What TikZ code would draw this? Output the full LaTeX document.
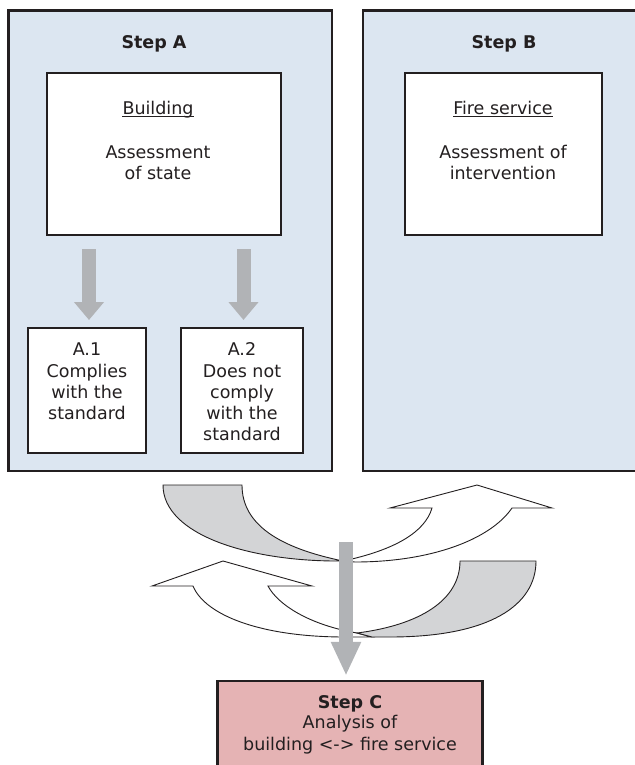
\documentclass[tikz,border=0pt]{standalone}
\usepackage{fontspec}
\setmainfont{DejaVu Sans}
\usetikzlibrary{arrows.meta}
\definecolor{stepblue}{RGB}{220,230,241}
\definecolor{arrowgray}{RGB}{177,179,182}
\definecolor{curvegray}{RGB}{211,212,214}
\definecolor{steppink}{RGB}{229,179,180}
\definecolor{ink}{RGB}{35,31,32}
\begin{document}
\begin{tikzpicture}[x=1pt,y=-1pt,
  stepbox/.style={draw=ink, line width=2.7pt, fill=stepblue, inner sep=0pt},
  innerbox/.style={draw=ink, line width=2pt, fill=white, inner sep=0pt},
  pinkbox/.style={draw=ink, line width=2.5pt, fill=steppink, inner sep=0pt},
  txt/.style={font=\fontsize{17.5}{21}\selectfont, text=ink, inner sep=0pt, anchor=base},
  btxt/.style={txt, font=\fontsize{17.5}{21}\selectfont\bfseries},
  smallarrow/.style={draw=arrowgray, line width=14pt, -{Triangle[width=29pt,length=18pt]}},
  bigarrow/.style={draw=arrowgray, line width=14pt, -{Triangle[width=28pt,length=34pt]}},
  curve/.style={draw=ink, line width=0.9pt, line join=miter}
]
\useasboundingbox (0,0) rectangle (634,765);

% Step boxes
\node[stepbox, minimum width=323.5pt, minimum height=460.3pt] (stepA) at (170.25,240.85) {};
\node[stepbox, minimum width=282pt, minimum height=460.3pt] (stepB) at (504,240.85) {};

% inner boxes
\node[innerbox, minimum width=234pt, minimum height=161.7pt] (bld) at (164,154.15) {};
\node[innerbox, minimum width=197pt, minimum height=161.7pt] (fire) at (503.5,154.15) {};
\node[innerbox, minimum width=118pt, minimum height=125pt] (a1) at (87,390.5) {};
\node[innerbox, minimum width=122pt, minimum height=125pt] (a2) at (242,390.5) {};

% texts
\node[btxt] (tA) at (154,49) {Step A};
\node[btxt] (tB) at (504,49) {Step B};
\node[txt] (b1) at (158,114) {Building};
\draw[ink, line width=1.1pt] ([yshift=-2.6pt]b1.base west) -- ([yshift=-2.6pt]b1.base east);
\node[txt] (b2) at (158,158) {Assessment};
\node[txt] (b3) at (158,179) {of state};
\node[txt] (f1) at (503,114) {Fire service};
\draw[ink, line width=1.1pt] ([yshift=-2.6pt]f1.base west) -- ([yshift=-2.6pt]f1.base east);
\node[txt] (f2) at (503,158) {Assessment of};
\node[txt] (f3) at (503,179) {intervention};

\node[txt] (a1t1) at (87,355) {A.1};
\node[txt] (a1t2) at (87,377) {Complies};
\node[txt] (a1t3) at (87,398) {with the};
\node[txt] (a1t4) at (87,419) {standard};

\node[txt] (a2t1) at (242,355) {A.2};
\node[txt] (a2t2) at (242,377) {Does not};
\node[txt] (a2t3) at (242,398) {comply};
\node[txt] (a2t4) at (242,419) {with the};
\node[txt] (a2t5) at (242,440) {standard};

% small gray arrows
\coordinate (s1) at (89,249);
\coordinate (s2) at (243.5,249);
\draw[smallarrow] (s1) -- (s1 |- a1.north) [shorten >=7pt];
\draw[smallarrow, shorten >=7pt] (s2) -- (s2 |- a2.north);

% curved arrows: upper
\filldraw[curve, fill=curvegray] (163,485) -- (242,485)
  .. controls (242,525) and (280,548) .. (343,561)
  .. controls (250,562) and (163,535) .. (163,485) -- cycle;
\filldraw[curve, fill=white] (343,561)
  .. controls (395,550) and (425,532) .. (432,508)
  -- (390,508) -- (477,485) -- (552,508) -- (512,508)
  .. controls (490,540) and (430,562) .. (355,562) -- cycle;

% curved arrows: lower
\filldraw[curve, fill=white] (357,633)
  .. controls (310,625) and (278,605) .. (268,586)
  -- (312,586) -- (223,561) -- (152,586) -- (193,586)
  .. controls (205,615) and (260,637) .. (345,637) -- (372,637) -- cycle;
\filldraw[curve, fill=curvegray] (460,561) -- (536,561)
  .. controls (536,605) and (490,637) .. (390,637) -- (372,637) -- (357,633)
  .. controls (420,625) and (460,600) .. (460,561) -- cycle;

% Step C
\node[pinkbox, minimum width=265pt, minimum height=119pt] (stepC) at (350,740.5) {};
\node[btxt] (c1) at (350,708) {Step C};
\node[txt] (c2) at (350,728) {Analysis of};
\node[txt] (c3) at (350,750) {building <-> fire service};

% vertical arrow
\coordinate (vtop) at (346,542);
\draw[bigarrow, shorten >=4pt] (vtop) -- (vtop |- stepC.north);
\end{tikzpicture}
\end{document}
